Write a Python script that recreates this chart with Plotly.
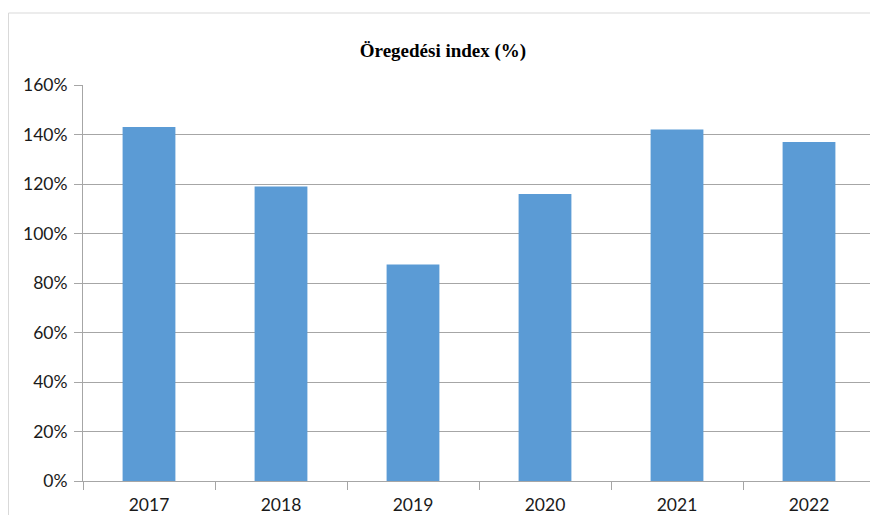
import plotly.graph_objects as go

years = ["2017", "2018", "2019", "2020", "2021", "2022"]
index_values = [1.43, 1.19, 0.875, 1.16, 1.42, 1.37]
y_ticks = [0, 0.2, 0.4, 0.6, 0.8, 1.0, 1.2, 1.4, 1.6]
title_text = "Öregedési index (%)"

# page body has an 8px margin, so the figure is drawn 8px in from the top-left
OFF = 8
W, H = 878 - OFF, 515 - OFF
L, R, T, B = 83 - OFF, 3, 85 - OFF, 34
pw, ph = W - L - R, H - T - B

fig = go.Figure(go.Bar(x=years, y=index_values, marker=dict(color="#5b9bd5", line=dict(width=0))))

fig.update_layout(
    width=W, height=H,
    margin=dict(l=L, r=R, t=T, b=B, autoexpand=False),
    paper_bgcolor="white", plot_bgcolor="white",
    bargap=0.6,
    showlegend=False,
    title=dict(text="<b>" + title_text + "</b>", x=(443 - OFF) / W, xanchor="center",
               y=1 - (50 - OFF) / H, yanchor="middle",
               font=dict(family="Liberation Serif, Times New Roman, serif", size=19, color="black")),
    font=dict(family="Lato, Liberation Sans, sans-serif", size=17.5, color="#1a1a1a"),
)

fig.update_yaxes(
    range=[0, 1.6], tickvals=y_ticks, tickformat=".0%",
    showgrid=True, gridcolor="#a6a6a6", gridwidth=1,
    showline=True, linecolor="#a6a6a6", linewidth=1,
    ticks="outside", ticklen=8, tickcolor="#a6a6a6",
    ticklabelstandoff=3, automargin=False,
    zeroline=False, fixedrange=True,
)
fig.update_xaxes(
    type="category", showline=True, linecolor="#a6a6a6", linewidth=1,
    ticks="outside", ticklen=8, tickcolor="#a6a6a6", tickson="boundaries",
    ticklabelstandoff=8, automargin=False,
    showgrid=False, fixedrange=True,
)

# outer chart border
fig.add_shape(type="rect", xref="paper", yref="paper",
              x0=(0.5 - L) / pw, x1=(W + 5 - L) / pw,
              y0=-(B + 10) / ph, y1=(H - B - (13 - OFF)) / ph,
              line=dict(color="#d9d9d9", width=1), fillcolor="rgba(0,0,0,0)", layer="below")

fig.write_html("out.html")
